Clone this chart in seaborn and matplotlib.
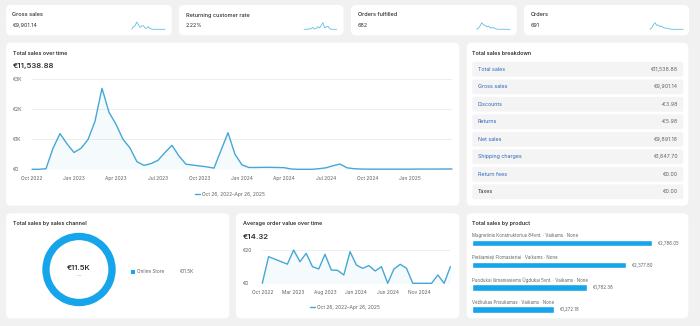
import matplotlib
matplotlib.use("Agg")
import matplotlib.pyplot as plt
import matplotlib.transforms as mtransforms
from matplotlib.patches import FancyBboxPatch
import numpy as np
import pandas as pd
import seaborn as sns

# ---------------- data ----------------
kpi_titles = ["Gross sales", "Returning customer rate", "Orders fulfilled", "Orders"]
kpi_values = ["€9,901.14", "2.22%", "682", "691"]

spark_gross = [0, .35, .43, .96, .61, .26, .43, .48, .17, .13, .35, .09, .04, 0, 0, 0, 0, 0, 0, 0, 0]
spark_returning = [0, 0, 0, .05, .1, .3, .05, .1, .4, .2, .6, 1.0, .2, .4, .45, .1, 0, 0, 0, 0]
spark_fulfilled = [0, .15, .5, 1, .7, .6, .4, .5, .25, .2, .3, .1, .05, 0, 0, 0, 0, 0, 0, 0, 0]
spark_orders = [0, .2, .65, 1, .6, .65, .4, .5, .25, .15, .2, .1, .05, 0, 0, 0, 0, 0, 0, 0, 0]

# total sales, half-month steps from Oct 2022 (0) to Apr 2025 (30)
sales_months = np.arange(0, 30.5, 0.5)
total_sales = [
    0, 0, 20, 700, 1190, 850, 560, 700, 990, 1600,
    2700, 1900, 1500, 1000, 710, 250, 130, 190, 300, 560,
    800, 440, 170, 140, 110, 80, 40, 630, 1220, 500,
    145, 60, 60, 65, 65, 60, 55, 10, 0, 0,
    0, 20, 50, 120, 175, 50, 20, 8, 5, 5,
    5, 5, 5, 5, 5, 8, 8, 8, 8, 10,
    10]
sales_tick_pos = [0, 3, 6, 9, 12, 15, 18, 21, 24, 27]
sales_tick_labels = ["Oct 2022", "Jan 2023", "Apr 2023", "Jul 2023", "Oct 2023",
                     "Jan 2024", "Apr 2024", "Jul 2024", "Oct 2024", "Jan 2025"]
sales_y_ticks = [0, 1000, 2000, 3000]
sales_y_labels = ["€0", "€1K", "€2K", "€3K"]
period_label = "Oct 26, 2022–Apr 26, 2025"

breakdown_labels = ["Total sales", "Gross sales", "Discounts", "Returns", "Net sales",
                    "Shipping charges", "Return fees", "Taxes"]
breakdown_values = ["€11,538.88", "€9,901.14", "-€3.98", "-€5.98", "€9,891.18",
                    "€1,647.70", "€0.00", "€0.00"]

channel_names = ["Online Store"]
channel_values = [11538.88]

aov_months = np.arange(0, 31)
aov = [0, 16, 14.5, 13, 11.5, 20, 13, 18, 10, 8.6, 17.4, 8, 7.8, 5, 19, 11, 9, 10.6,
       7.4, 10, 0, 8.6, 11.4, 9, 0, 0, 0, 0, 5, 0, 10]
aov_tick_pos = [0, 5, 10, 15, 20, 25]
aov_tick_labels = ["Oct 2022", "Mar 2023", "Aug 2023", "Jan 2024", "Jun 2024", "Nov 2024"]
aov_y_ticks = [0, 20]
aov_y_labels = ["€0", "€20"]

products = ["Magnetinis Konstruktorius 84vnt. · Vaikams · None",
            "Piešiamieji Flomasteriai · Vaikams · None",
            "Puodukai Išmaniesiems Ūgdukai 5vnt. · Vaikams · None",
            "Vėžliukas Prisukamas · Vaikams · None"]
product_sales = [2786.05, 2377.80, 1782.38, 1272.18]

# ---------------- style ----------------
sns.set_theme(style="white")
plt.rcParams['font.family'] = ['Inter', 'DejaVu Sans']

LINE = "#45a7d6"
SPARK = "#62bfe0"
VIVID = "#16a4ea"
DARK = "#303030"
GREY = "#616161"
LINK = "#2a64b8"

W, H = 700, 326
fig = plt.figure(figsize=(7, 3.26), dpi=100)
fig.patch.set_facecolor('#f1f1f1')

bg = fig.add_axes([0, 0, 1, 1])
bg.set_xlim(0, W)
bg.set_ylim(H, 0)
bg.axis('off')


def card(x0, y0, x1, y1):
    bg.add_patch(FancyBboxPatch((x0, y0), x1 - x0, y1 - y0,
                                boxstyle="round,pad=0,rounding_size=5",
                                fc='white', ec='none'))


def px_axes(x0, y0, x1, y1):
    a = fig.add_axes([x0 / W, 1 - y1 / H, (x1 - x0) / W, (y1 - y0) / H])
    a.set_facecolor('none')
    return a


# ---------------- KPI cards ----------------
kpi_cards = [(6, 5, 171.7), (179, 5, 343.5), (351, 5, 516.7), (524, 5, 689)]
spark_boxes = [(131.7, 21.7, 165), (304, 22.7, 336.7), (476.7, 22.7, 510), (650, 22.7, 683.3)]
sparks = [spark_gross, spark_returning, spark_fulfilled, spark_orders]
for (x0, y0, x1), title, val, sb, sp in zip(kpi_cards, kpi_titles, kpi_values, spark_boxes, sparks):
    card(x0, y0, x1, 35.3)
    bg.text(x0 + 6.5, 15, title, fontsize=4.0, color=DARK, va='center', fontweight='medium')
    bg.text(x0 + 6.5, 25.7, val, fontsize=3.9, color=DARK, va='center')
    sa = px_axes(sb[0], sb[1], sb[2], 29.3)
    sns.lineplot(x=np.arange(len(sp)), y=sp, ax=sa, color=SPARK, linewidth=0.6)
    sa.set_xlim(0, len(sp) - 1)
    sa.set_ylim(0, 1)
    sa.axis('off')
    for ln in sa.get_lines():
        ln.set_clip_on(False)

# ---------------- Total sales over time ----------------
card(6, 42.7, 459.3, 205.7)
bg.text(12.7, 53.3, "Total sales over time", fontsize=3.9, color=DARK, va='center', fontweight='semibold')
bg.text(12.7, 65.7, "€11,538.88", fontsize=5.6, color=DARK, va='center', fontweight='semibold')

ax = px_axes(32, 79.3, 452, 169.3)
sns.lineplot(x=sales_months, y=total_sales, ax=ax, color=LINE, linewidth=1.0, label=period_label)
ax.fill_between(sales_months, total_sales, color=LINE, alpha=0.05, linewidth=0)
ax.set_xlim(0, 30)
ax.set_ylim(0, 3000)
ax.set_yticks(sales_y_ticks)
ax.grid(axis='y', color='#ebebeb', linewidth=0.6)
ax.grid(axis='x', visible=False)
ax.set_xticks(sales_tick_pos)
ax.set_xticklabels(sales_tick_labels)
ax.tick_params(axis='x', length=0, pad=5, labelsize=3.5, labelcolor=GREY)
ax.tick_params(axis='y', length=0, labelleft=False)
sns.despine(ax=ax, left=True, bottom=True)
for ln in ax.get_lines():
    ln.set_clip_on(False)
tr = mtransforms.blended_transform_factory(bg.transData, ax.transData)
for v, lab in zip(sales_y_ticks, sales_y_labels):
    ax.text(13, v, lab, transform=tr, fontsize=3.5, color=GREY, va='center', ha='left')
leg = ax.legend(loc='center', bbox_to_anchor=(230 / W, 1 - 194.3 / H), bbox_transform=fig.transFigure,
                frameon=False, fontsize=3.5, handlelength=1.0, handletextpad=0.6, labelcolor=GREY)

# ---------------- Total sales breakdown ----------------
card(466.7, 42.7, 688.3, 205.7)
bg.text(472.3, 53.3, "Total sales breakdown", fontsize=3.9, color=DARK, va='center', fontweight='semibold')
for i, (lab, val) in enumerate(zip(breakdown_labels, breakdown_values)):
    yc = 69.3 + 17.5 * i
    bg.add_patch(FancyBboxPatch((472.3, yc - 7.4), 211, 14.8,
                                boxstyle="round,pad=0,rounding_size=2",
                                fc='#f4f4f4', ec='none'))
    col = DARK if lab == "Taxes" else LINK
    bg.text(477.5, yc, lab, fontsize=3.8, color=col, va='center')
    bg.text(678.3, yc, val, fontsize=3.8, color=GREY, va='center', ha='right')

# ---------------- Total sales by sales channel ----------------
card(6, 213.3, 229.3, 318.3)
bg.text(12.7, 224, "Total sales by sales channel", fontsize=3.9, color=DARK, va='center', fontweight='semibold')
pa = px_axes(42.3, 232.8, 115.7, 306.2)
wedges, _ = pa.pie(channel_values, colors=[VIVID], radius=1, startangle=90,
                   wedgeprops=dict(width=0.2, edgecolor='none'))
pa.set_xlim(-1, 1)
pa.set_ylim(-1, 1)
pa.text(0, 0.04, "€11.5K", ha='center', va='center', fontsize=5.4, color=DARK, fontweight='semibold')
pa.text(0, -0.2, "—", ha='center', va='center', fontsize=3.0, color='#8a8a8a')
pa.legend(wedges, channel_names, loc='center left', bbox_to_anchor=(128.5 / W, 1 - 271.7 / H),
          bbox_transform=fig.transFigure, frameon=False, fontsize=3.4, handlelength=0.9,
          handleheight=0.9, handletextpad=0.5, borderpad=0, labelcolor=GREY)
bg.text(180, 271.7, "€11.5K", fontsize=3.4, color=GREY, va='center')

# ---------------- Average order value over time ----------------
card(236, 213.3, 459.3, 318.3)
bg.text(242.7, 224, "Average order value over time", fontsize=3.9, color=DARK, va='center', fontweight='semibold')
bg.text(242.7, 236.7, "€14.32", fontsize=5.6, color=DARK, va='center', fontweight='semibold')
aa = px_axes(262.3, 250, 450.4, 283.3)
sns.lineplot(x=aov_months, y=aov, ax=aa, color=LINE, linewidth=1.0, label=period_label)
aa.fill_between(aov_months, aov, color=LINE, alpha=0.05, linewidth=0)
aa.set_xlim(0, 30)
aa.set_ylim(0, 20)
aa.set_yticks(aov_y_ticks)
aa.grid(axis='y', color='#ebebeb', linewidth=0.6)
aa.grid(axis='x', visible=False)
aa.set_xticks(aov_tick_pos)
aa.set_xticklabels(aov_tick_labels)
aa.tick_params(axis='x', length=0, pad=5, labelsize=3.5, labelcolor=GREY)
aa.tick_params(axis='y', length=0, labelleft=False)
sns.despine(ax=aa, left=True, bottom=True)
for ln in aa.get_lines():
    ln.set_clip_on(False)
tr2 = mtransforms.blended_transform_factory(bg.transData, aa.transData)
for v, lab in zip(aov_y_ticks, aov_y_labels):
    aa.text(243.3, v, lab, transform=tr2, fontsize=3.5, color=GREY, va='center', ha='left')
aa.legend(loc='center', bbox_to_anchor=(345 / W, 1 - 307.7 / H), bbox_transform=fig.transFigure,
          frameon=False, fontsize=3.5, handlelength=1.0, handletextpad=0.6, labelcolor=GREY)

# ---------------- Total sales by product ----------------
card(466.7, 213.3, 688.3, 318.3)
bg.text(472.3, 224, "Total sales by product", fontsize=3.9, color=DARK, va='center', fontweight='semibold')
ba = px_axes(472, 231.95, 686, 320.35)
sns.barplot(x=product_sales, y=products, orient='h', color=VIVID, saturation=1, width=0.3, ax=ba)
ba.set_xlim(0, max(product_sales) * 214 / 180.3)
ba.set_ylim(3.5, -0.5)
ba.axis('off')
for i, (name, v) in enumerate(zip(products, product_sales)):
    ba.text(0, i - 0.33, name, fontsize=3.2, color=GREY, va='center', ha='left')
    ba.annotate(f"€{v:,.2f}", xy=(v, i), xytext=(4, 0), textcoords='offset points',
                fontsize=3.2, color=GREY, va='center', ha='left')

fig.savefig("out.png", dpi=100, facecolor=fig.get_facecolor())
